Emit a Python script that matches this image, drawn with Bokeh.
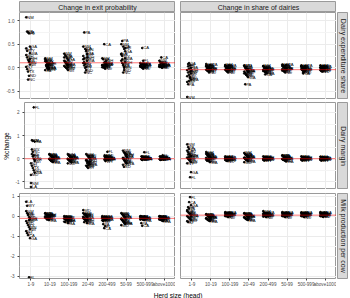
import math
from bokeh.plotting import figure
from bokeh.models import (ColumnDataSource, FactorRange, Range1d, FixedTicker,
                          NumeralTickFormatter, Span, Spacer)
from bokeh.layouts import row, column
from bokeh.transform import dodge
from bokeh.core.properties import value
from bokeh.embed import file_html
from bokeh.resources import INLINE

herd_sizes = ["1-9", "10-19", "100-199", "20-49", "200-499", "50-99", "500-999", "above1000"]
states = ["NM", "PA", "CA", "FL", "GA", "LA", "WY", "NC", "ND", "WA",
          "MD", "SD", "KY", "MN", "WI", "NY", "ID", "TX", "MI", "OH"]
col_titles = ["Change in exit probability", "Change in share of dairies"]
row_titles = ["Dairy expenditure share", "Dairy margin", "Milk production per cow"]

exit_expend = {
    "1-9":      [1.07, 0.77, 0.75, 0.73, 0.45, 0.41, 0.36, -0.25, -0.17, 0.31, 0.27, 0.22, 0.17, 0.12, 0.07, 0.02, -0.03, -0.08, 0.14, 0.19],
    "10-19":    [0.20, 0.16, 0.11, 0.05, 0.00, -0.05, 0.13, 0.08, 0.03, -0.02, 0.18, 0.06, 0.01, -0.04, 0.09, 0.14, 0.04, -0.01, 0.07, 0.10],
    "100-199":  [0.30, 0.27, 0.24, 0.20, 0.17, 0.15, 0.12, 0.10, 0.08, 0.06, 0.04, 0.02, 0.00, -0.02, -0.05, 0.22, 0.13, 0.09, 0.05, 0.01],
    "20-49":    [0.45, 0.75, 0.40, 0.35, 0.30, 0.25, 0.20, -0.10, -0.05, 0.15, 0.10, 0.05, 0.00, 0.38, 0.28, 0.18, 0.12, 0.08, 0.02, 0.22],
    "200-499":  [0.20, 0.18, 0.50, 0.12, 0.08, 0.05, 0.03, 0.00, -0.02, 0.10, 0.06, 0.04, 0.02, 0.07, 0.09, 0.01, 0.05, 0.11, 0.03, 0.15],
    "50-99":    [0.50, 0.57, 0.45, 0.40, 0.35, 0.30, 0.25, -0.10, -0.05, 0.20, 0.15, 0.10, 0.05, 0.00, 0.42, 0.28, 0.18, 0.08, 0.02, 0.12],
    "500-999":  [0.10, 0.08, 0.42, 0.15, 0.06, 0.04, 0.02, 0.00, -0.02, 0.07, 0.05, 0.03, 0.01, 0.09, 0.06, 0.02, 0.04, 0.08, 0.00, 0.03],
    "above1000":[0.15, 0.12, 0.22, 0.10, 0.08, 0.06, 0.04, 0.02, 0.00, 0.05, 0.03, 0.07, 0.01, 0.09, 0.04, 0.02, 0.06, 0.11, 0.03, 0.05],
}
share_expend = {
    "1-9":      [-0.62, -0.35, 0.10, 0.05, 0.00, -0.05, -0.10, -0.15, -0.20, -0.25, -0.30, 0.08, -0.02, -0.08, -0.12, -0.18, 0.03, -0.28, -0.22, -0.06],
    "10-19":    [0.08, 0.05, 0.02, -0.08, -0.02, -0.04, -0.06, 0.00, -0.10, 0.06, 0.03, 0.01, -0.01, -0.03, -0.05, 0.04, 0.00, -0.07, 0.02, -0.02],
    "100-199":  [0.06, 0.04, 0.02, 0.00, -0.02, -0.04, -0.06, -0.08, -0.10, 0.05, 0.03, 0.01, -0.01, -0.03, -0.05, 0.04, 0.00, -0.07, 0.02, -0.02],
    "20-49":    [0.05, -0.35, 0.02, -0.02, -0.05, -0.08, -0.11, -0.14, -0.17, -0.20, 0.04, 0.00, -0.03, -0.06, -0.09, -0.12, 0.01, -0.15, -0.04, -0.07],
    "200-499":  [0.04, 0.02, -0.14, 0.00, -0.02, -0.04, -0.06, -0.08, -0.10, -0.12, 0.03, 0.01, -0.01, -0.03, -0.05, -0.07, 0.00, -0.09, -0.02, -0.04],
    "50-99":    [0.07, 0.05, 0.03, 0.01, -0.01, -0.03, -0.05, -0.07, -0.10, 0.06, 0.04, 0.02, 0.00, -0.02, -0.04, -0.06, 0.03, -0.08, 0.01, -0.01],
    "500-999":  [0.05, 0.03, -0.12, 0.01, -0.01, -0.03, -0.05, -0.07, -0.09, 0.04, 0.02, 0.00, -0.02, -0.04, -0.06, 0.03, 0.01, -0.10, -0.01, -0.03],
    "above1000":[0.05, 0.03, 0.01, -0.01, -0.03, -0.05, -0.07, -0.08, 0.04, 0.02, 0.00, -0.02, -0.04, -0.06, 0.03, 0.01, -0.01, -0.03, 0.02, -0.02],
}
exit_margin = {
    "1-9":      [-1.05, 0.80, 0.77, 2.22, 0.74, -1.22, 0.40, 0.30, -0.50, -0.60, -0.70, 0.20, 0.10, 0.00, -0.10, -0.20, -0.30, -0.40, 0.15, -0.05],
    "10-19":    [0.20, 0.16, 0.12, 0.08, 0.04, 0.00, -0.04, -0.08, -0.12, -0.15, 0.18, 0.14, 0.10, 0.06, 0.02, -0.02, -0.06, -0.10, 0.05, 0.01],
    "100-199":  [0.20, 0.16, 0.12, 0.08, 0.04, 0.00, -0.04, -0.08, -0.12, -0.16, -0.20, 0.14, 0.10, 0.06, 0.02, -0.02, -0.06, -0.10, 0.05, -0.01],
    "20-49":    [0.20, 0.15, 0.10, 0.05, 0.00, -0.05, -0.10, -0.15, -0.20, -0.25, -0.30, -0.35, -0.40, 0.12, 0.02, -0.08, -0.18, -0.28, 0.08, -0.12],
    "200-499":  [0.15, 0.10, 0.05, 0.30, 0.00, -0.05, -0.10, 0.12, 0.08, 0.03, -0.02, -0.07, 0.06, 0.01, -0.04, 0.09, 0.04, -0.01, 0.02, -0.03],
    "50-99":    [0.35, 0.28, 0.22, 0.16, 0.10, 0.04, -0.02, -0.08, -0.14, -0.20, -0.26, -0.35, 0.25, 0.13, 0.07, 0.01, -0.05, -0.11, -0.17, 0.19],
    "500-999":  [0.10, 0.07, 0.04, 0.28, 0.01, -0.02, -0.05, 0.08, 0.05, 0.02, -0.01, -0.04, 0.06, 0.03, 0.00, -0.03, 0.09, 0.04, 0.01, -0.02],
    "above1000":[0.10, 0.07, 0.04, 0.15, 0.01, -0.02, -0.05, 0.08, 0.05, 0.02, -0.01, -0.04, 0.06, 0.03, 0.00, -0.03, 0.09, 0.04, 0.01, -0.02],
}
share_margin = {
    "1-9":      [0.62, 0.50, 0.42, -0.80, -0.58, 0.35, 0.28, 0.22, 0.16, 0.10, 0.05, 0.00, -0.05, -0.10, -0.15, -0.20, 0.18, 0.08, -0.02, 0.12],
    "10-19":    [0.29, 0.24, 0.19, 0.14, 0.09, 0.04, -0.01, -0.06, -0.11, -0.15, 0.21, 0.16, 0.11, 0.06, 0.01, -0.04, -0.09, 0.12, 0.03, 0.07],
    "100-199":  [0.10, 0.07, 0.04, 0.01, -0.02, -0.05, -0.08, -0.10, 0.08, 0.05, 0.02, -0.01, -0.04, -0.07, 0.06, 0.03, 0.00, -0.03, 0.02, -0.02],
    "20-49":    [0.25, 0.21, 0.17, 0.13, 0.09, 0.05, 0.01, -0.03, -0.07, -0.11, -0.15, 0.19, 0.15, 0.11, 0.07, 0.03, -0.01, -0.05, 0.12, 0.04],
    "200-499":  [0.10, 0.07, 0.04, 0.01, -0.02, -0.05, -0.08, 0.08, 0.05, 0.02, -0.01, -0.04, -0.06, 0.06, 0.03, 0.00, -0.03, 0.02, -0.02, 0.04],
    "50-99":    [0.15, 0.12, 0.09, 0.06, 0.03, 0.00, -0.03, -0.06, -0.09, -0.12, 0.13, 0.10, 0.07, 0.04, 0.01, -0.02, -0.05, 0.08, 0.02, -0.01],
    "500-999":  [0.10, 0.07, 0.04, 0.01, -0.02, -0.05, -0.08, 0.08, 0.05, 0.02, -0.01, -0.04, -0.06, 0.06, 0.03, 0.00, -0.03, 0.02, -0.02, 0.04],
    "above1000":[0.09, 0.06, 0.04, 0.01, -0.02, -0.05, -0.08, 0.07, 0.05, 0.02, -0.01, -0.04, -0.06, 0.05, 0.03, 0.00, -0.03, 0.02, -0.02, 0.03],
}
exit_milk = {
    "1-9":      [0.25, 0.15, -0.95, -3.05, -1.10, 0.72, 0.52, 0.05, -0.05, -0.15, -0.25, -0.35, -0.45, -0.55, -0.65, -0.75, -0.85, 0.10, -0.20, -0.10],
    "10-19":    [0.15, 0.11, 0.07, -0.15, 0.03, -0.01, -0.05, -0.09, -0.13, -0.20, 0.13, 0.09, 0.05, 0.01, -0.03, -0.07, -0.11, -0.17, 0.02, 0.06],
    "100-199":  [0.00, -0.03, -0.06, -0.09, -0.35, -0.12, -0.15, -0.18, -0.21, -0.24, -0.27, -0.30, -0.02, -0.05, -0.08, -0.11, -0.14, -0.17, -0.20, -0.23],
    "20-49":    [0.15, 0.10, 0.05, 0.00, -0.05, -0.10, -0.15, -0.20, -0.25, -0.35, 0.30, -0.30, 0.12, 0.07, 0.02, -0.03, -0.08, -0.13, -0.18, -0.22],
    "200-499":  [0.00, -0.40, -0.60, -0.50, -0.03, -0.06, -0.09, -0.12, -0.15, -0.18, -0.21, -0.25, -0.02, -0.05, -0.08, -0.11, -0.14, -0.17, -0.20, -0.10],
    "50-99":    [0.15, 0.09, 0.03, -0.03, -0.09, -0.15, -0.21, -0.27, -0.33, -0.39, -0.45, 0.12, 0.06, 0.00, -0.06, -0.12, -0.18, -0.24, -0.30, -0.36],
    "500-999":  [0.00, -0.35, -0.48, -0.03, -0.06, -0.09, -0.12, -0.15, -0.18, -0.20, -0.02, -0.05, -0.08, -0.11, -0.14, -0.17, -0.01, -0.04, -0.07, -0.10],
    "above1000":[0.00, -0.03, -0.20, -0.06, -0.09, -0.12, -0.15, -0.18, -0.22, -0.25, -0.02, -0.05, -0.08, -0.11, -0.14, -0.17, -0.01, -0.04, -0.07, -0.10],
}
share_milk = {
    "1-9":      [0.30, 0.45, 0.70, 0.95, 0.55, 0.25, 0.20, 0.15, 0.10, 0.05, 0.00, -0.05, -0.10, -0.15, -0.20, -0.25, -0.30, 0.38, 0.12, -0.02],
    "10-19":    [0.10, 0.06, 0.02, -0.02, -0.06, -0.10, -0.14, -0.18, -0.22, -0.25, 0.08, 0.04, 0.00, -0.04, -0.08, -0.12, -0.16, -0.20, 0.03, -0.07],
    "100-199":  [0.20, 0.17, 0.14, 0.11, 0.08, 0.05, 0.02, -0.01, -0.05, 0.18, 0.15, 0.12, 0.09, 0.06, 0.03, 0.00, 0.10, 0.07, 0.04, 0.13],
    "20-49":    [0.15, 0.11, 0.07, 0.03, -0.01, -0.05, -0.09, -0.13, -0.17, -0.20, 0.13, 0.09, 0.05, 0.01, -0.03, -0.07, -0.11, -0.15, 0.06, 0.00],
    "200-499":  [0.25, 0.18, 0.15, 0.12, 0.09, 0.06, 0.03, 0.00, -0.05, 0.16, 0.13, 0.10, 0.07, 0.04, 0.01, -0.02, 0.11, 0.08, 0.05, 0.02],
    "50-99":    [0.20, 0.17, 0.14, 0.11, 0.08, 0.05, 0.02, -0.01, -0.05, 0.18, 0.15, 0.12, 0.09, 0.06, 0.03, 0.00, 0.10, 0.07, 0.04, 0.13],
    "500-999":  [0.19, 0.16, 0.14, 0.11, 0.08, 0.05, 0.02, -0.01, -0.05, 0.17, 0.15, 0.12, 0.09, 0.06, 0.03, 0.00, 0.10, 0.07, 0.04, 0.13],
    "above1000":[0.20, 0.17, 0.13, 0.11, 0.08, 0.05, 0.02, -0.01, -0.04, 0.18, 0.15, 0.12, 0.09, 0.06, 0.03, 0.00, 0.10, 0.07, 0.04, 0.12],
}
hline_values = [[0.106, -0.04], [0.0, 0.0], [-0.11, 0.05]]

panels = [[exit_expend, share_expend], [exit_margin, share_margin], [exit_milk, share_milk]]

# axis setup
y_limits = [(-0.673, 1.173), (-1.33, 2.43), (-3.11, 1.13)]
y_ticks = [[-0.5, 0.0, 0.5, 1.0], [-1, 0, 1, 2], [-3, -2, -1, 0, 1]]
y_minor = [[-0.25, 0.25, 0.75], [-0.5, 0.5, 1.5], [-2.5, -1.5, -0.5, 0.5]]
y_fmt = ["0.0", "0", "0"]
jitter = [-0.10, -0.05, 0.0, 0.05, 0.10]

FONT = "Liberation Sans"
FW, FH = 156, 87
TOPS = [0, 3, 4]
BOTTOMS = [0, 0, 9]
BORDER = "#9A9A9A"


def make_panel(r, c):
    left = 19 if c == 0 else 5
    top, bottom = TOPS[r], BOTTOMS[r]
    p = figure(width=left + FW, height=top + FH + bottom,
               x_range=FactorRange(factors=herd_sizes, range_padding=0.025),
               y_range=Range1d(*y_limits[r]),
               output_backend="svg", toolbar_location=None,
               min_border_left=left, min_border_right=0,
               min_border_top=top, min_border_bottom=bottom)
    p.background_fill_color = "white"
    p.border_fill_color = "white"
    p.outline_line_color = BORDER
    p.outline_line_width = 1
    tick = FixedTicker(ticks=y_ticks[r], minor_ticks=y_minor[r])
    p.yaxis.ticker = tick
    p.ygrid.ticker = tick
    p.yaxis.formatter = NumeralTickFormatter(format=y_fmt[r])
    p.ygrid.grid_line_color = "#EBEBEB"
    p.ygrid.minor_grid_line_color = "#F4F4F4"
    p.xgrid.grid_line_color = "#EBEBEB"
    for ax in (p.xaxis, p.yaxis):
        ax.axis_line_color = None
        ax.major_tick_out = 2
        ax.major_tick_in = 0
        ax.minor_tick_line_color = None
        ax.major_tick_line_color = "#444444"
        ax.major_label_standoff = 1
        ax.major_label_text_font = FONT
        ax.major_label_text_font_size = "4.6px"
        ax.major_label_text_color = "#4D4D4D"
    if c == 1:
        p.yaxis.visible = False
    if r < 2:
        p.xaxis.visible = False
    if r == 1 and c == 0:
        p.yaxis.axis_label = "%change"
        p.yaxis.axis_label_text_font = FONT
        p.yaxis.axis_label_text_font_size = "6.6px"
        p.yaxis.axis_label_text_font_style = "normal"
        p.yaxis.axis_label_text_color = "#000000"
        p.yaxis.axis_label_standoff = 2

    data = panels[r][c]
    for k, j in enumerate(jitter):
        xs, ys, labs = [], [], []
        for cat in herd_sizes:
            for i, v in enumerate(data[cat]):
                if i % len(jitter) == k:
                    xs.append(cat)
                    ys.append(v)
                    labs.append(states[i])
        src = ColumnDataSource(dict(cat=xs, val=ys, state=labs))
        p.scatter(x=dodge("cat", j - 0.15, range=p.x_range), y="val", source=src,
                  size=1.7, marker="circle", color="black")
        p.text(x=dodge("cat", j - 0.10, range=p.x_range), y="val", text="state",
               source=src, text_font=value(FONT), text_font_size="4.2px",
               text_baseline="middle", text_align="left", text_color="#000000")
    p.add_layout(Span(location=hline_values[r][c], dimension="width",
                      line_color="#FF0000", line_alpha=0.55, line_width=1))
    return p


def make_strip(w, h, label, angle, top=0, bottom=0):
    s = figure(width=w, height=h + top + bottom, x_range=Range1d(0, 1), y_range=Range1d(0, 1),
               output_backend="svg", toolbar_location=None,
               min_border_left=0, min_border_right=0,
               min_border_top=top, min_border_bottom=bottom,
               x_axis_location=None, y_axis_location=None)
    s.grid.visible = False
    s.background_fill_color = "#D9D9D9"
    s.border_fill_color = "white"
    s.outline_line_color = BORDER
    s.text(x=[0.5], y=[0.5], text=[label], angle=angle, text_align="center",
           text_baseline="middle", text_font=value(FONT), text_font_size="7px",
           text_color="#1A1A1A")
    return s


top_row = row(Spacer(width=19, height=12),
              make_strip(FW, 11, col_titles[0], 0, top=1),
              Spacer(width=5, height=12),
              make_strip(FW, 11, col_titles[1], 0, top=1),
              Spacer(width=14, height=12))

rows = [top_row]
for r in range(3):
    h = TOPS[r] + FH + BOTTOMS[r]
    rows.append(row(make_panel(r, 0), make_panel(r, 1),
                    Spacer(width=1, height=h),
                    make_strip(11, FH, row_titles[r], -math.pi / 2, top=TOPS[r], bottom=BOTTOMS[r]),
                    Spacer(width=2, height=h)))

xt = figure(width=350, height=9, x_range=Range1d(0, 350), y_range=Range1d(0, 9),
            output_backend="svg", toolbar_location=None,
            min_border_left=0, min_border_right=0, min_border_top=0, min_border_bottom=0,
            x_axis_location=None, y_axis_location=None)
xt.grid.visible = False
xt.outline_line_color = None
xt.text(x=[177.5], y=[5.6], text=["Herd size (head)"], text_align="center",
        text_baseline="middle", text_font=value(FONT), text_font_size="6.6px",
        text_color="#000000")
rows.append(xt)

layout = column(*rows)
open("out.html", "w").write(file_html(layout, INLINE))
